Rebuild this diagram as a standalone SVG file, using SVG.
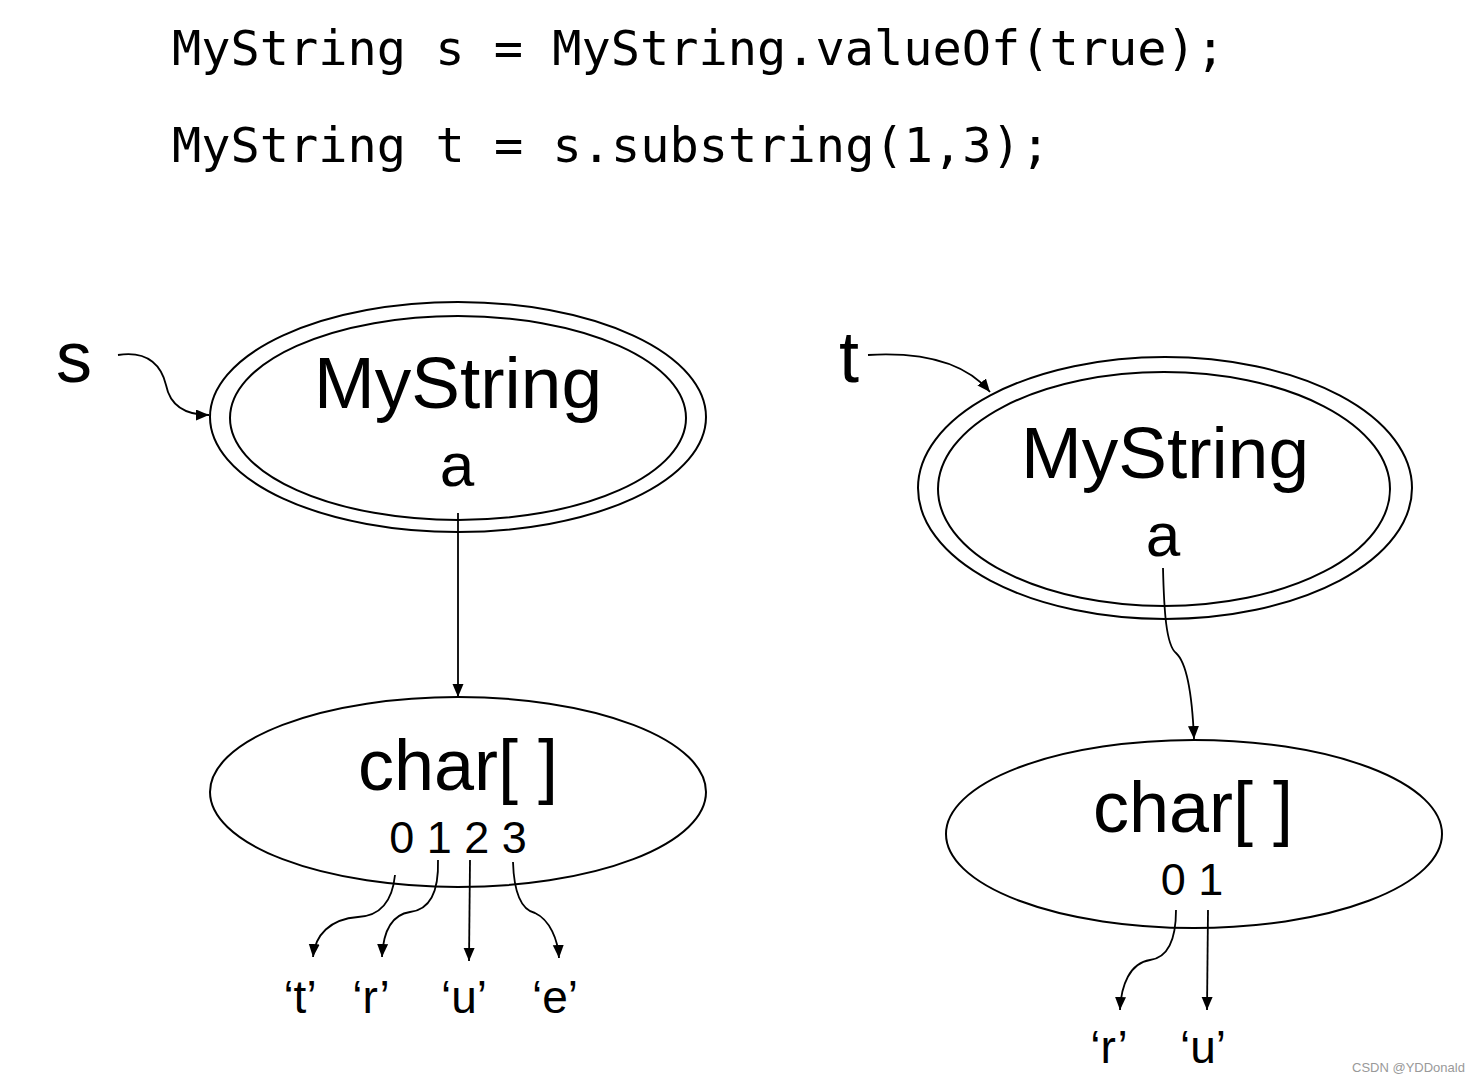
<svg xmlns="http://www.w3.org/2000/svg" width="1478" height="1083" viewBox="0 0 1478 1083">
<style>
.code{font-family:"DejaVu Sans Mono","Liberation Mono",monospace;font-size:48.6px;fill:#000}
.lbl{font-family:"Liberation Sans",Arial,sans-serif;fill:#000;text-anchor:middle}
.big{font-size:73px}
.fld{font-size:62px}
.med{font-size:72px}
.idx{font-size:45px}
.ch{font-size:46px}
.shape{fill:none;stroke:#000;stroke-width:2}
.edge{fill:none;stroke:#000;stroke-width:1.8}
.wm{font-family:"Liberation Sans",Arial,sans-serif;font-size:13px;fill:#999}
</style>
<defs>
<marker id="arr" markerWidth="14" markerHeight="12" refX="13" refY="5.5" orient="auto" markerUnits="userSpaceOnUse">
<path d="M0,0 L13,5.5 L0,11 Z" fill="#000"/>
</marker>
</defs>
<rect width="1478" height="1083" fill="#fff"/>
<g id="code">
<text class="code" x="172" y="65" textLength="1053" lengthAdjust="spacingAndGlyphs">MyString s = MyString.valueOf(true);</text>
<text class="code" x="172" y="162" textLength="878" lengthAdjust="spacingAndGlyphs">MyString t = s.substring(1,3);</text>
</g>
<g id="var-s"><text class="lbl med" x="74" y="382">s</text></g>
<g id="var-t"><text class="lbl med" x="849" y="382">t</text></g>
<g id="mystring-s">
<ellipse class="shape" cx="458" cy="417" rx="248" ry="115"/>
<ellipse class="shape" cx="458" cy="418" rx="228" ry="102"/>
<text class="lbl big" x="458" y="408">MyString</text>
<text class="lbl fld" x="457" y="486">a</text>
</g>
<g id="mystring-t">
<ellipse class="shape" cx="1165" cy="488" rx="247" ry="131"/>
<ellipse class="shape" cx="1164" cy="489" rx="226" ry="117"/>
<text class="lbl big" x="1165" y="478">MyString</text>
<text class="lbl fld" x="1163" y="556">a</text>
</g>
<g id="chars-s">
<ellipse class="shape" cx="458" cy="792" rx="248" ry="95"/>
<text class="lbl med" x="458" y="790">char[ ]</text>
<text class="lbl idx" x="458" y="853">0 1 2 3</text>
</g>
<g id="chars-t">
<ellipse class="shape" cx="1194" cy="834" rx="248" ry="94"/>
<text class="lbl med" x="1193" y="832">char[ ]</text>
<text class="lbl idx" x="1192" y="895">0 1</text>
</g>
<g id="values-s">
<text class="lbl ch" x="300" y="1013">‘t’</text>
<text class="lbl ch" x="371" y="1013">‘r’</text>
<text class="lbl ch" x="464" y="1013">‘u’</text>
<text class="lbl ch" x="555" y="1013">‘e’</text>
</g>
<g id="values-t">
<text class="lbl ch" x="1109" y="1063">‘r’</text>
<text class="lbl ch" x="1203" y="1063">‘u’</text>
</g>
<g id="connectors">
<path class="edge" marker-end="url(#arr)" d="M118,355 C150,350 162,368 166,385 C170,405 185,415 209,415"/>
<path class="edge" marker-end="url(#arr)" d="M868,355 C920,352 965,362 990,392"/>
<path class="edge" marker-end="url(#arr)" d="M458,513 L458,697"/>
<path class="edge" marker-end="url(#arr)" d="M1163,568 C1164,610 1166,645 1176,653 C1186,662 1192,690 1194,739"/>
<path class="edge" marker-end="url(#arr)" d="M395,875 C392,905 378,916 358,917 C330,919 315,935 313,957"/>
<path class="edge" marker-end="url(#arr)" d="M438,860 C439,895 428,910 410,912 C390,915 383,935 382,957"/>
<path class="edge" marker-end="url(#arr)" d="M470,860 L469,961"/>
<path class="edge" marker-end="url(#arr)" d="M513,862 C514,895 522,910 535,913 C550,920 558,940 559,958"/>
<path class="edge" marker-end="url(#arr)" d="M1176,910 C1176,945 1165,958 1150,960 C1130,963 1121,985 1120,1010"/>
<path class="edge" marker-end="url(#arr)" d="M1208,910 L1207,1010"/>
</g>
<text class="wm" x="1352" y="1072">CSDN @YDDonald</text>
</svg>
